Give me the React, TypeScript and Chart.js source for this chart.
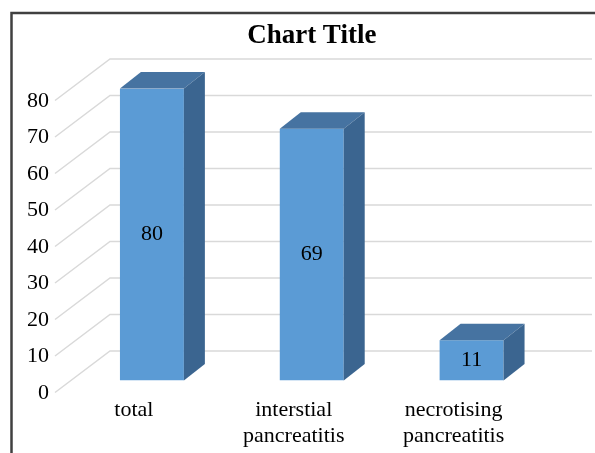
import React, { useEffect, useRef } from "react";
import { Chart, registerables } from "chart.js";

Chart.register(...registerables);

const categories: (string | string[])[] = [
  "total",
  ["interstial", "pancreatitis"],
  ["necrotising", "pancreatitis"],
];
const values: number[] = [80, 69, 11];
const yMin = 0;
const yMax = 80;
const yStep = 10;
const titleText = "Chart Title";

const FRONT = "#5B9BD5";
const TOP = "#4673A1";
const SIDE = "#3B6590";
const GRID = "#D9D9D9";
const DEPTH_X = 21;
const DEPTH_Y = -16.5;
const FONT = "'Liberation Serif', 'Times New Roman', serif";

const threeD = {
  id: "threeD",
  beforeDraw(chart: any) {
    const ctx = chart.ctx;
    ctx.save();
    ctx.strokeStyle = "#404040";
    ctx.lineWidth = 2.5;
    ctx.beginPath();
    ctx.moveTo(11.5, chart.height + 5);
    ctx.lineTo(11.5, 13);
    ctx.lineTo(chart.width + 5, 13);
    ctx.stroke();
    ctx.restore();
  },
  beforeDatasetsDraw(chart: any) {
    const ctx = chart.ctx;
    const y = chart.scales.y;
    const area = chart.chartArea;
    const frontX = area.left - 17;
    const backX = area.left + 38;
    ctx.save();
    ctx.strokeStyle = GRID;
    ctx.lineWidth = 1.5;
    y.ticks.forEach((t: any) => {
      const py = y.getPixelForValue(t.value);
      ctx.beginPath();
      ctx.moveTo(frontX, py + 12);
      ctx.lineTo(backX, py - 29.5);
      ctx.lineTo(chart.width - 3, py - 29.5);
      ctx.stroke();
    });
    ctx.restore();
  },
  afterDatasetsDraw(chart: any) {
    const ctx = chart.ctx;
    const meta = chart.getDatasetMeta(0);
    ctx.save();
    meta.data.forEach((bar: any, i: number) => {
      const { x, y, base, width } = bar.getProps(["x", "y", "base", "width"], true);
      const l = x - width / 2;
      const r = x + width / 2;
      ctx.fillStyle = TOP;
      ctx.beginPath();
      ctx.moveTo(l, y);
      ctx.lineTo(l + DEPTH_X, y + DEPTH_Y);
      ctx.lineTo(r + DEPTH_X, y + DEPTH_Y);
      ctx.lineTo(r, y);
      ctx.closePath();
      ctx.fill();
      ctx.fillStyle = SIDE;
      ctx.beginPath();
      ctx.moveTo(r, y);
      ctx.lineTo(r + DEPTH_X, y + DEPTH_Y);
      ctx.lineTo(r + DEPTH_X, base + DEPTH_Y);
      ctx.lineTo(r, base);
      ctx.closePath();
      ctx.fill();
      ctx.fillStyle = "#000";
      ctx.font = `22px ${FONT}`;
      ctx.textAlign = "center";
      ctx.textBaseline = "middle";
      ctx.fillText(String(values[i]), x, (y + base) / 2);
    });
    ctx.restore();
  },
};

export default function App() {
  const ref = useRef<HTMLCanvasElement>(null);
  useEffect(() => {
    if (!ref.current) return;
    Chart.defaults.font.family = FONT;
    const chart = new Chart(ref.current, {
      type: "bar",
      data: {
        labels: categories,
        datasets: [
          {
            data: values,
            backgroundColor: FRONT,
            borderWidth: 0,
            barPercentage: 0.4,
            categoryPercentage: 1,
          },
        ],
      },
      options: {
        responsive: false,
        animation: false,
        layout: { padding: { left: 0, right: 43.5, top: 0, bottom: 0 } },
        plugins: {
          legend: { display: false },
          tooltip: { enabled: false },
          title: {
            display: true,
            fullSize: false,
            text: titleText,
            color: "#000",
            font: { size: 27, weight: "bold", family: FONT, lineHeight: 1.2 },
            padding: { top: 19.8, bottom: 36.3 },
          },
        },
        scales: {
          x: {
            grid: { display: false, drawTicks: false, tickLength: 0 },
            border: { display: false },
            ticks: {
              color: "#000",
              font: { size: 22, family: FONT, lineHeight: 1.15 },
              padding: 17.5,
              labelOffset: -18,
              maxRotation: 0,
              autoSkip: false,
            },
            afterFit(scale: any) {
              scale.height = 72.5;
            },
          },
          y: {
            min: yMin,
            max: yMax,
            grid: { display: false, drawTicks: false, tickLength: 0 },
            border: { display: false },
            ticks: {
              stepSize: yStep,
              color: "#000",
              font: { size: 22, family: FONT },
              padding: 23,
              labelOffset: 12.5,
            },
            afterFit(scale: any) {
              scale.width = 72;
            },
          },
        },
      },
      plugins: [threeD],
    });
    return () => chart.destroy();
  }, []);
  return (
    <div style={{ position: "absolute", left: 0, top: 0, width: 595, height: 453, background: "#fff" }}>
      <canvas ref={ref} width={595} height={453} style={{ width: 595, height: 453, display: "block" }} />
    </div>
  );
}
